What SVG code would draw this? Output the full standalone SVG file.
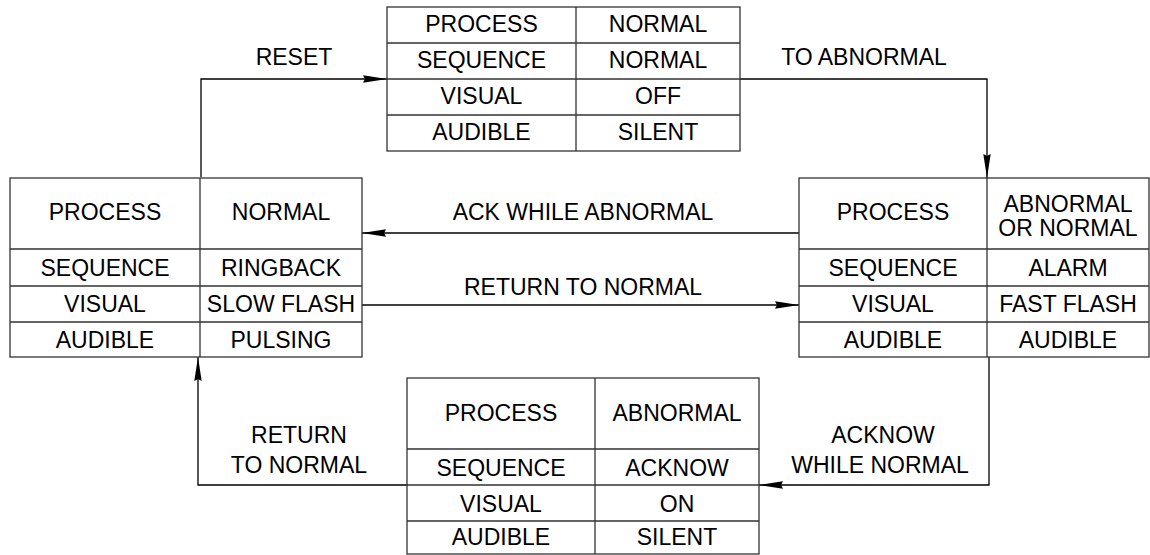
<svg xmlns="http://www.w3.org/2000/svg" width="1150" height="555" viewBox="0 0 1150 555">
<style>
  .box { fill: #ffffff; stroke: #333333; stroke-width: 1.3; }
  .grid { stroke: #333333; stroke-width: 1.3; fill: none; }
  .t { font-family: "Liberation Sans", Arial, sans-serif; font-size: 23px; fill: #000000; text-anchor: middle; }
  .conn { stroke: #000000; stroke-width: 1.3; fill: none; marker-end: url(#arr); }
</style>
<defs>
  <marker id="arr" viewBox="0 0 24 8" refX="24" refY="4" markerWidth="24" markerHeight="8" markerUnits="userSpaceOnUse" orient="auto">
    <path d="M0,0.3 L24,4 L0,7.7 L2,4 z" fill="#000000"/>
  </marker>
</defs>
<rect width="1150" height="555" fill="#ffffff"/>

<g id="connectors">
  <path class="conn" d="M201,177 V79 H387"/>
  <path class="conn" d="M740,79 H987 V178"/>
  <path class="conn" d="M799,233 H362"/>
  <path class="conn" d="M362,305 H799"/>
  <path class="conn" d="M989,357 V485 H759"/>
  <path class="conn" d="M407,485 H198 V357"/>
  <text class="t" x="294" y="65">RESET</text>
  <text class="t" x="864" y="65">TO ABNORMAL</text>
  <text class="t" x="583" y="220">ACK WHILE ABNORMAL</text>
  <text class="t" x="583" y="295">RETURN TO NORMAL</text>
  <text class="t" x="299" y="443">RETURN</text>
  <text class="t" x="299" y="473">TO NORMAL</text>
  <text class="t" x="883" y="443">ACKNOW</text>
  <text class="t" x="880" y="473">WHILE NORMAL</text>
</g>

<g id="state-normal">
  <rect class="box" x="387" y="7" width="353" height="144"/>
  <path class="grid" d="M576,7 V151 M387,43 H740 M387,79 H740 M387,115 H740"/>
  <text class="t" x="481.5" y="32">PROCESS</text>
  <text class="t" x="658" y="32">NORMAL</text>
  <text class="t" x="481.5" y="68">SEQUENCE</text>
  <text class="t" x="658" y="68">NORMAL</text>
  <text class="t" x="481.5" y="104">VISUAL</text>
  <text class="t" x="658" y="104">OFF</text>
  <text class="t" x="481.5" y="140">AUDIBLE</text>
  <text class="t" x="658" y="140">SILENT</text>
</g>

<g id="state-ringback">
  <rect class="box" x="10" y="178" width="352" height="179"/>
  <path class="grid" d="M200,178 V357 M10,249 H362 M10,286 H362 M10,322 H362"/>
  <text class="t" x="105" y="220">PROCESS</text>
  <text class="t" x="281" y="220">NORMAL</text>
  <text class="t" x="105" y="276">SEQUENCE</text>
  <text class="t" x="281" y="276">RINGBACK</text>
  <text class="t" x="105" y="312">VISUAL</text>
  <text class="t" x="281" y="312">SLOW FLASH</text>
  <text class="t" x="105" y="348">AUDIBLE</text>
  <text class="t" x="281" y="348">PULSING</text>
</g>

<g id="state-alarm">
  <rect class="box" x="799" y="178" width="350" height="179"/>
  <path class="grid" d="M987,178 V357 M799,249 H1149 M799,286 H1149 M799,322 H1149"/>
  <text class="t" x="893" y="220">PROCESS</text>
  <text class="t" x="1068" y="212">ABNORMAL</text>
  <text class="t" x="1068" y="236">OR NORMAL</text>
  <text class="t" x="893" y="276">SEQUENCE</text>
  <text class="t" x="1068" y="276">ALARM</text>
  <text class="t" x="893" y="312">VISUAL</text>
  <text class="t" x="1068" y="312">FAST FLASH</text>
  <text class="t" x="893" y="348">AUDIBLE</text>
  <text class="t" x="1068" y="348">AUDIBLE</text>
</g>

<g id="state-acknow">
  <rect class="box" x="407" y="378" width="352" height="176"/>
  <path class="grid" d="M595,378 V554 M407,449 H759 M407,485 H759 M407,521 H759"/>
  <text class="t" x="501" y="421">PROCESS</text>
  <text class="t" x="677" y="421">ABNORMAL</text>
  <text class="t" x="501" y="476">SEQUENCE</text>
  <text class="t" x="677" y="476">ACKNOW</text>
  <text class="t" x="501" y="512">VISUAL</text>
  <text class="t" x="677" y="512">ON</text>
  <text class="t" x="501" y="545">AUDIBLE</text>
  <text class="t" x="677" y="545">SILENT</text>
</g>
</svg>
